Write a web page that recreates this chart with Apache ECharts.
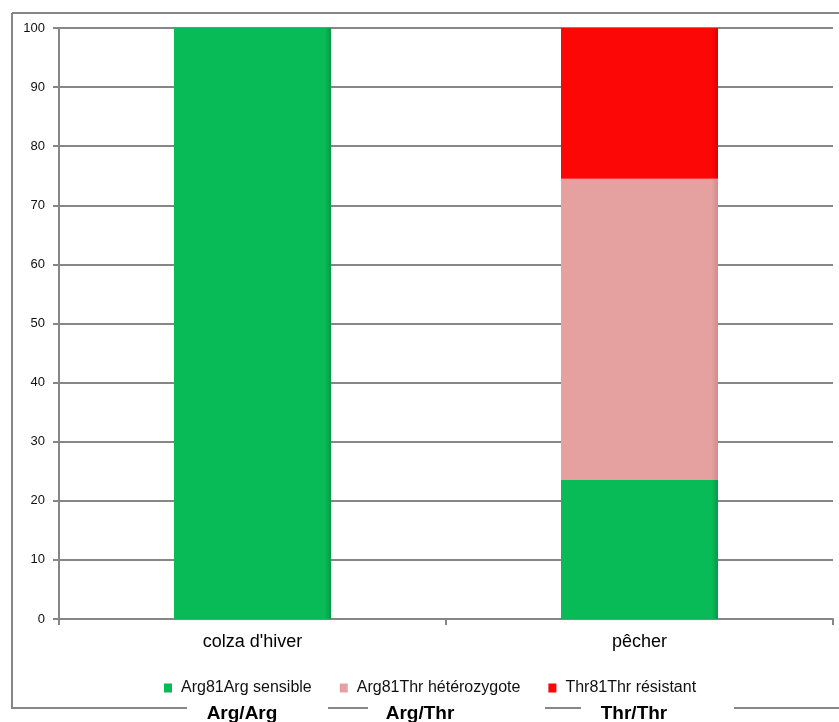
<!DOCTYPE html>
<html>
<head>
<meta charset="utf-8">
<script src="https://cdn.jsdelivr.net/npm/echarts@6/dist/echarts.min.js"></script>
<style>
html,body{margin:0;padding:0;background:#fff;}
#chart{width:839px;height:722px;}
</style>
</head>
<body>
<div id="chart"></div>
<script>
const categories = ["colza d'hiver", "pêcher"];
const seriesNames = ["Arg81Arg sensible", "Arg81Thr hétérozygote", "Thr81Thr résistant"];
const sensible = [100, 23.5];
const heterozygote = [0, 51];
const resistant = [0, 25.5];
const genotypeLabels = ["Arg/Arg", "Arg/Thr", "Thr/Thr"];
const colors = ["#09bb56", "#e5a19f", "#fd0606"];
const edges = ["#069a48", "#cf8c8a", "#d80404"];

const chart = echarts.init(document.getElementById('chart'));
const gray = '#868686';
const font = 'Liberation Sans, Arial, sans-serif';

function mkSeries(name, data, i) {
  return {
    name: name, type: 'bar', stack: 'total', data: data,
    barWidth: 157,
    itemStyle: {
      color: {
        type: 'linear', x: 0, y: 0, x2: 1, y2: 0,
        colorStops: [
          { offset: 0, color: colors[i] },
          { offset: 0.96, color: colors[i] },
          { offset: 1, color: edges[i] }
        ]
      },
      borderWidth: 0
    },
    emphasis: { disabled: true }
  };
}

const labelPos = [242, 420, 634];
chart.setOption({
  animation: false,
  backgroundColor: '#fff',
  textStyle: { fontFamily: font },
  grid: { left: 59, right: 6, top: 28, bottom: 103, containLabel: false },
  legend: {
    left: 159, top: 675,
    itemWidth: 8, itemHeight: 9, itemGap: 28,
    icon: 'rect',
    textStyle: { fontSize: 16, color: '#111', fontFamily: font, padding: [0, 0, 0, 4] },
    data: seriesNames.map((n, i) => ({ name: n, itemStyle: { color: colors[i] } }))
  },
  xAxis: {
    type: 'category', data: categories,
    axisLine: { lineStyle: { color: gray, width: 2 } },
    axisTick: { show: true, length: 6, lineStyle: { color: gray, width: 2 } },
    axisLabel: { fontSize: 18, color: '#000', margin: 14, fontFamily: font },
    splitLine: { show: false }
  },
  yAxis: {
    type: 'value', min: 0, max: 100, interval: 10,
    axisLine: { show: true, lineStyle: { color: gray, width: 2 } },
    axisTick: { show: true, length: 6, lineStyle: { color: gray, width: 2 } },
    axisLabel: { fontSize: 13, color: '#111', margin: 14, fontFamily: font },
    splitLine: { show: true, lineStyle: { color: gray, width: 2 } }
  },
  series: [
    mkSeries(seriesNames[0], sensible, 0),
    mkSeries(seriesNames[1], heterozygote, 1),
    mkSeries(seriesNames[2], resistant, 2)
  ],
  graphic: [
    { type: 'line', shape: { x1: 12, y1: 13, x2: 839, y2: 13 }, style: { stroke: gray, lineWidth: 2 } },
    { type: 'line', shape: { x1: 12, y1: 13, x2: 12, y2: 708 }, style: { stroke: gray, lineWidth: 2 } },
    { type: 'line', shape: { x1: 11, y1: 708, x2: 187, y2: 708 }, style: { stroke: gray, lineWidth: 2 } },
    { type: 'line', shape: { x1: 328, y1: 708, x2: 368, y2: 708 }, style: { stroke: gray, lineWidth: 2 } },
    { type: 'line', shape: { x1: 545, y1: 708, x2: 581, y2: 708 }, style: { stroke: gray, lineWidth: 2 } },
    { type: 'line', shape: { x1: 734, y1: 708, x2: 839, y2: 708 }, style: { stroke: gray, lineWidth: 2 } },
    { type: 'text', x: labelPos[0], y: 714, style: { text: genotypeLabels[0], font: 'bold 19px ' + font, fill: '#000', textAlign: 'center', textVerticalAlign: 'middle' } },
    { type: 'text', x: labelPos[1], y: 714, style: { text: genotypeLabels[1], font: 'bold 19px ' + font, fill: '#000', textAlign: 'center', textVerticalAlign: 'middle' } },
    { type: 'text', x: labelPos[2], y: 714, style: { text: genotypeLabels[2], font: 'bold 19px ' + font, fill: '#000', textAlign: 'center', textVerticalAlign: 'middle' } }
  ]
});
</script>
</body>
</html>
